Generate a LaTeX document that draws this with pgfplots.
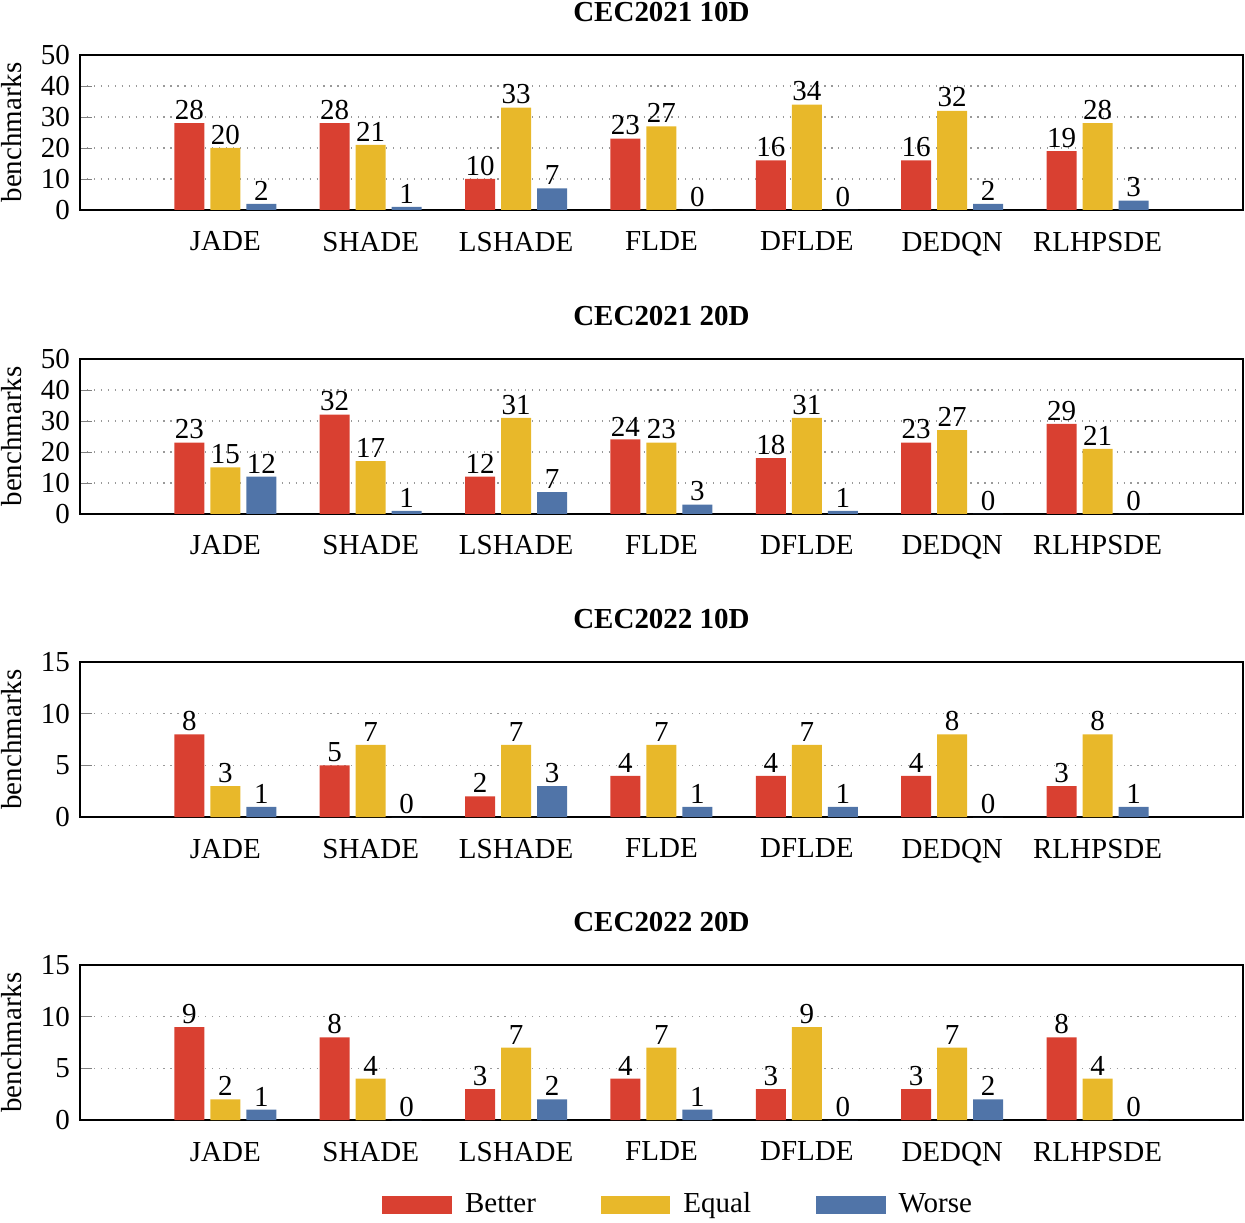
\documentclass[border=0pt]{standalone}
\usepackage{pgfplots}
\pgfplotsset{compat=1.18}
\usepackage{fontspec}
\setmainfont{Liberation Serif}
\definecolor{cbet}{HTML}{D94031}
\definecolor{cequ}{HTML}{E8B82A}
\definecolor{cwor}{HTML}{5074A8}
\pgfplotsset{
  myax/.style={
    scale only axis, width=401.2pt, height=53.5pt, anchor=south west,
    ybar=2.07pt, bar width=10.35pt,
    xmin=0, xmax=8, xtick={1,...,7},
    xticklabels={JADE,SHADE,LSHADE,FLDE,DFLDE,DEDQN,RLHPSDE},
    xtick style={draw=none},
    xticklabel style={yshift=-4pt},
    ymin=0,
    ytick pos=left, tick align=inside,
    ymajorgrids, major grid style={dotted, gray!80, line width=0.5pt},
    axis line style={line width=0.6pt},
    ylabel={benchmarks},
    ylabel style={at={(axis description cs:-0.0585,0.5)}, anchor=center},
    title style={at={(axis description cs:0.5,1)}, anchor=center, yshift=8.8pt, font=\bfseries},
    /pgf/number format/assume math mode=true,
    nodes near coords, every node near coord/.append style={inner sep=1pt, black},
    every axis plot/.append style={draw=none},
    legend image code/.code={\fill[##1] (0pt,-3.1pt) rectangle (24pt,3.1pt);},
  }
}
\begin{document}
\begin{tikzpicture}
\path[use as bounding box] (0,0) rectangle (429.5pt,-421.6pt);
% Panel 1
\begin{axis}[myax, at={(27.6pt,-72.45pt)}, ymax=50, ytick={0,10,...,50}, title={CEC2021 10D}]
\addplot[fill=cbet] coordinates {(1,28) (2,28) (3,10) (4,23) (5,16) (6,16) (7,19)};
\addplot[fill=cequ] coordinates {(1,20) (2,21) (3,33) (4,27) (5,34) (6,32) (7,28)};
\addplot[fill=cwor] coordinates {(1,2) (2,1) (3,7) (4,0) (5,0) (6,2) (7,3)};
\end{axis}
% Panel 2
\begin{axis}[myax, at={(27.6pt,-177.3pt)}, ymax=50, ytick={0,10,...,50}, title={CEC2021 20D}]
\addplot[fill=cbet] coordinates {(1,23) (2,32) (3,12) (4,24) (5,18) (6,23) (7,29)};
\addplot[fill=cequ] coordinates {(1,15) (2,17) (3,31) (4,23) (5,31) (6,27) (7,21)};
\addplot[fill=cwor] coordinates {(1,12) (2,1) (3,7) (4,3) (5,1) (6,0) (7,0)};
\end{axis}
% Panel 3
\begin{axis}[myax, at={(27.6pt,-281.9pt)}, ymax=15, ytick={0,5,10,15}, title={CEC2022 10D}]
\addplot[fill=cbet] coordinates {(1,8) (2,5) (3,2) (4,4) (5,4) (6,4) (7,3)};
\addplot[fill=cequ] coordinates {(1,3) (2,7) (3,7) (4,7) (5,7) (6,8) (7,8)};
\addplot[fill=cwor] coordinates {(1,1) (2,0) (3,3) (4,1) (5,1) (6,0) (7,1)};
\end{axis}
% Panel 4
\begin{axis}[myax, at={(27.6pt,-386.4pt)}, ymax=15, ytick={0,5,10,15}, title={CEC2022 20D},
  legend columns=3,
  legend style={draw=none, at={(axis description cs:0.516,-0.548)}, anchor=center,
    /tikz/every odd column/.append style={column sep=2.5pt},
    /tikz/every even column/.append style={column sep=20.4pt}},
  legend cell align=left]
\addplot[fill=cbet] coordinates {(1,9) (2,8) (3,3) (4,4) (5,3) (6,3) (7,8)};
\addplot[fill=cequ] coordinates {(1,2) (2,4) (3,7) (4,7) (5,9) (6,7) (7,4)};
\addplot[fill=cwor] coordinates {(1,1) (2,0) (3,2) (4,1) (5,0) (6,2) (7,0)};
\legend{Better,Equal,Worse}
\end{axis}
\end{tikzpicture}
\end{document}
